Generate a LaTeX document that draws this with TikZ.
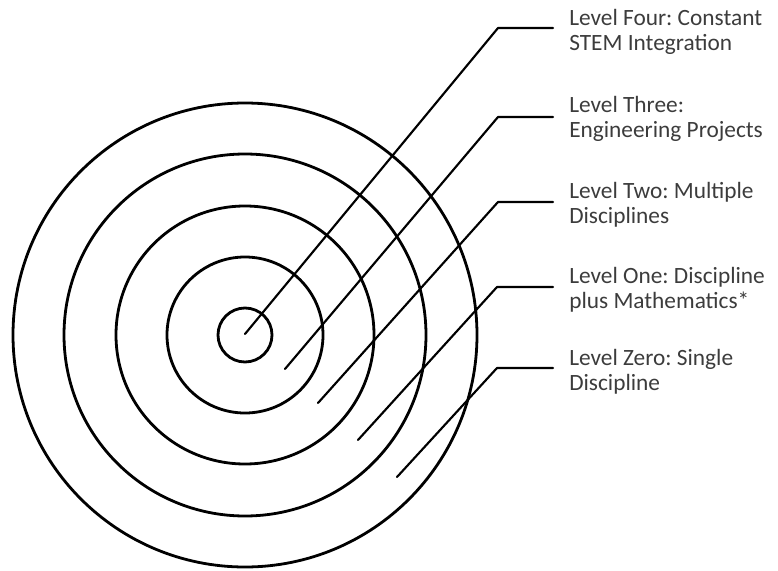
\documentclass[tikz,border=0pt]{standalone}
\usepackage{fontspec}
\setmainfont{Carlito}
\frenchspacing
\definecolor{txtgray}{RGB}{60,60,60}
\begin{document}
\begin{tikzpicture}[x=0.75pt,y=-0.75pt,line cap=round,line join=round,
	ring/.style={line width=2.1pt},
	lead/.style={line width=1.6pt},
	lbl/.style={anchor=base west,align=left,inner sep=0pt,text=txtgray,font=\fontsize{17.5}{18.75}\selectfont}]
	\useasboundingbox (0,0) rectangle (778,571);
	\coordinate (c) at (245,335);
	\foreach \r in {27,78,129,181,232}
	\draw[ring] (c) circle[radius=\r*0.75pt];
	% labels (anchored on the second line)
	\node[lbl] (four) at (569,50) {Level Four: Constant\\STEM Integration};
	\node[lbl] (three) at (569,137) {Level Three:\\Engineering Projects};
	\node[lbl] (two) at (569,223) {Level Two: Multiple\\Disciplines};
	\node[lbl] (one) at (569,308) {Level One: Discipline\\plus Mathematics*};
	\node[lbl] (zero) at (569,390) {Level Zero: Single\\Discipline};
	% leader lines
	\foreach \x/\y/\bx/\by/\name in {245/334/498/28/four,285/369/498/117/three,318/403/498/202/two,358/440/497/287/one,397/477/497/368/zero}{
		\coordinate (s\name) at (\x,\y);
		\coordinate (b\name) at (\bx,\by);
		\draw[lead] (s\name) -- (b\name) -- ([xshift=-12pt]b\name -| \name.west);
	}
\end{tikzpicture}
\end{document}
